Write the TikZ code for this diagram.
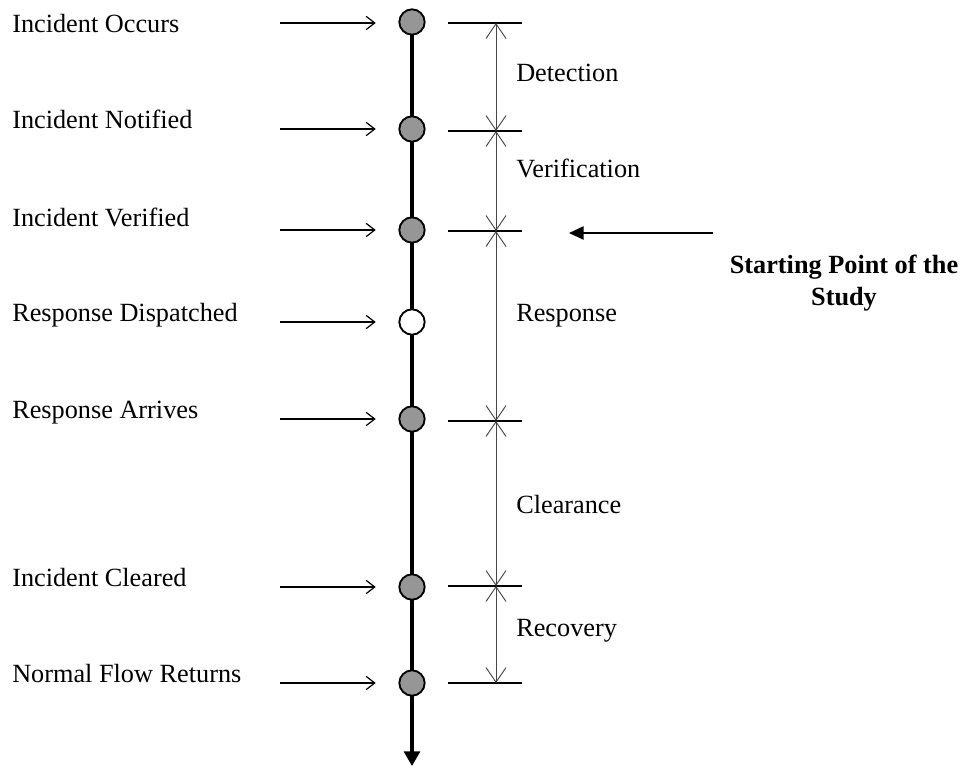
\documentclass[tikz,border=0pt]{standalone}
\usepackage{fontspec}
\setmainfont{Liberation Serif}
\usetikzlibrary{arrows.meta}
\definecolor{eventfill}{RGB}{150,150,150}
\definecolor{spanline}{RGB}{70,70,70}
\begin{document}
\begin{tikzpicture}[x=0.75pt,y=-0.75pt,
  event/.style={circle,draw=black,line width=1.4pt,fill=eventfill,minimum size=19pt,inner sep=0pt},
  eventopen/.style={event,fill=white},
  lbl/.style={anchor=base west,inner sep=0pt,font=\fontsize{19.7}{23.6}\selectfont},
  feed/.style={-{Straight Barb[length=6.5pt,width=10pt]},line width=0.9pt,shorten >=17pt},
  tick/.style={line width=1.4pt},
  span/.style={{Straight Barb[length=11pt,width=15pt]}-{Straight Barb[length=11pt,width=15pt]},line width=0.7pt,draw=spanline},
  timeline/.style={line width=2.4pt,-{Triangle[length=11pt,width=12pt]}},
  pointer/.style={line width=1.1pt,-{Triangle[length=11pt,width=10pt]}}
]
\useasboundingbox (0,0) rectangle (966,767);

% time axis
\coordinate (top) at (412,22);
\coordinate (bottom) at (412,766);
\draw[timeline] (top) -- (bottom);

% events on the axis
\node[event]     (c1) at (412,22)  {};
\node[event]     (c2) at (412,129) {};
\node[event]     (c3) at (412,230) {};
\node[eventopen] (c4) at (412,322) {};
\node[event]     (c5) at (412,419) {};
\node[event]     (c6) at (412,587) {};
\node[event]     (c7) at (412,683) {};

% event names
\node[lbl] (l1) at (12,33)  {Incident Occurs};
\node[lbl] (l2) at (12,128) {Incident Notified};
\node[lbl] (l3) at (12,226) {Incident Verified};
\node[lbl] (l4) at (12,321) {Response Dispatched};
\node[lbl] (l5) at (12,418) {Response Arrives};
\node[lbl] (l6) at (12,586) {Incident Cleared};
\node[lbl] (l7) at (12,682) {Normal Flow Returns};

% arrows pointing at the events
\foreach \i/\y in {1/23,2/129,3/230,4/322,5/419,6/587,7/683}{
  \coordinate (s\i) at (280,\y);
  \draw[feed] (s\i) -- (c\i.west |- s\i);
}

% phase boundaries
\foreach \i/\y in {1/23,2/131,3/231,4/421,5/586,6/683}{
  \coordinate (tl\i) at (448,\y);
  \coordinate (tr\i) at (522,\y);
  \coordinate (t\i) at (496,\y);
  \draw[tick] (tl\i) -- (tr\i);
}

% phase spans
\draw[span] (t1) -- (t2);
\draw[span] (t2) -- (t3);
\draw[span] (t3) -- (t4);
\draw[span] (t4) -- (t5);
\draw[span] (t5) -- (t6);

% phase names
\node[lbl] (p1) at (516,81)  {Detection};
\node[lbl] (p2) at (516,177) {Verification};
\node[lbl] (p3) at (516,321) {Response};
\node[lbl] (p4) at (516,513) {Clearance};
\node[lbl] (p5) at (516,636) {Recovery};

% study start marker (base anchor sits on the last line)
\coordinate (ptail) at (713,233);
\coordinate (phead) at (569,233);
\draw[pointer] (ptail) -- (phead);
\node[anchor=base,inner sep=0pt,align=center,font=\fontsize{19.7}{23.3}\selectfont\bfseries]
  (study) at (844,305) {Starting Point of the\\Study};
\end{tikzpicture}
\end{document}
